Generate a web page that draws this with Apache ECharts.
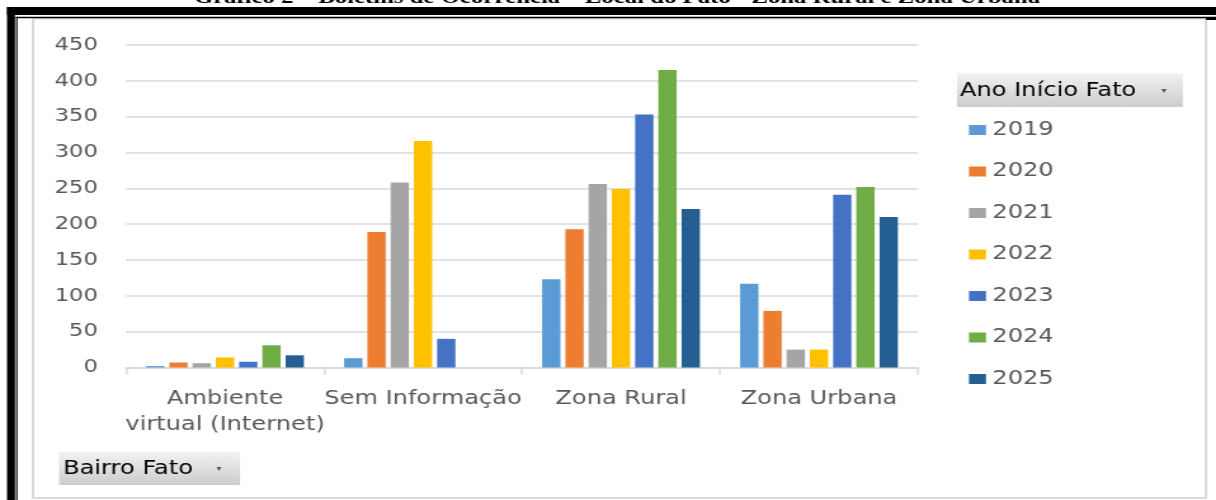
<!DOCTYPE html>
<html>
<head>
<meta charset="utf-8">
<script src="https://cdn.jsdelivr.net/npm/echarts@6/dist/echarts.min.js"></script>
<style>
html,body{margin:0;padding:0;background:#fff;overflow:hidden;width:1216px;height:500px;}
#c{width:958px;height:500px;transform:scaleX(1.26931);transform-origin:0 0;}
</style>
</head>
<body>
<div id="c"></div>
<script>
// ---- data ----
const categories = ['Ambiente\nvirtual (Internet)', 'Sem Informação', 'Zona Rural', 'Zona Urbana'];
const years = ['2019', '2020', '2021', '2022', '2023', '2024', '2025'];
const v2019 = [2, 13, 123, 117];
const v2020 = [7, 189, 193, 79];
const v2021 = [6, 258, 256, 25];
const v2022 = [14, 316, 249, 25];
const v2023 = [8, 40, 353, 241];
const v2024 = [31, 0, 415, 252];
const v2025 = [17, 0, 221, 210];
const yTicks = [0, 450, 50]; // min, max, interval
const titleText = 'Gráfico 2 – Boletins de Ocorrência – Local do Fato - Zona Rural e Zona Urbana';
const legendTitle = 'Ano Início Fato';
const filterTitle = 'Bairro Fato';

const seriesValues = [v2019, v2020, v2021, v2022, v2023, v2024, v2025];
const colors = ['#5B9BD5', '#ED7D31', '#A5A5A5', '#FFC000', '#4472C4', '#70AD47', '#255E91'];

const S = 1216 / 958;
const X = px => px / S;
const FONT = '"DejaVu Sans", sans-serif';

function btnGradient() {
  return new echarts.graphic.LinearGradient(0, 0, 0, 1, [
    {offset: 0, color: '#f3f3f3'},
    {offset: 1, color: '#cccccc'}
  ]);
}

const chart = echarts.init(document.getElementById('c'), null, {renderer: 'canvas'});
chart.setOption({
  animation: false,
  backgroundColor: '#ffffff',
  color: colors,
  grid: {left: X(126), width: X(792), top: 45, height: 322.5, containLabel: false},
  xAxis: {
    type: 'category',
    data: categories,
    axisLine: {lineStyle: {color: '#d9d9d9', width: 1.5}},
    axisTick: {show: true, length: 7, lineStyle: {color: '#d9d9d9', width: 1.5}},
    axisLabel: {color: '#595959', fontSize: 19, fontFamily: FONT, margin: 19, lineHeight: 26, interval: 0}
  },
  yAxis: {
    type: 'value',
    min: yTicks[0], max: yTicks[1], interval: yTicks[2],
    axisLine: {show: false},
    axisTick: {show: false},
    axisLabel: {color: '#595959', fontSize: 18, fontFamily: FONT, margin: 22},
    splitLine: {lineStyle: {color: '#d9d9d9', width: 1.5}}
  },
  legend: {
    orient: 'vertical',
    left: X(969),
    top: 120,
    padding: 0,
    icon: 'rect',
    itemWidth: X(17),
    itemHeight: 10,
    itemGap: 21.5,
    selectedMode: false,
    textStyle: {color: '#595959', fontSize: 19, fontFamily: FONT, lineHeight: 20},
    data: years
  },
  series: years.map((y, i) => ({
    name: y,
    type: 'bar',
    data: seriesValues[i],
    barWidth: X(18.3),
    barGap: '27%',
    itemStyle: {color: colors[i]}
  })),
  graphic: [
    {type: 'text', z: 1, style: {text: titleText, x: X(617), y: 8, textAlign: 'center', textVerticalAlign: 'bottom', font: 'bold 19.5px "Liberation Serif", serif', fill: '#000'}},
    {type: 'rect', z: 5, shape: {x: X(7), y: 7, width: X(1209), height: 8}, style: {fill: '#000'}},
    {type: 'rect', z: 5, shape: {x: X(7), y: 7, width: X(8), height: 493}, style: {fill: '#000'}},
    {type: 'rect', z: 5, shape: {x: X(16), y: 16.8, width: X(1200), height: 1.5}, style: {fill: '#000'}},
    {type: 'rect', z: 5, shape: {x: X(16), y: 16.8, width: X(1.5), height: 484}, style: {fill: '#000'}},
    {type: 'rect', z: 5, shape: {x: X(1206), y: 17, width: X(10), height: 3}, style: {fill: '#000'}},
    {type: 'rect', z: 4, shape: {x: X(33), y: 18.5, width: X(1173), height: 479.5}, style: {fill: 'none', stroke: '#d9d9d9', lineWidth: 2}},
    {type: 'rect', z: 4, shape: {x: X(957), y: 73, width: X(226), height: 34}, style: {fill: btnGradient()}},
    {type: 'text', z: 6, style: {text: legendTitle, x: X(960), y: 91, textVerticalAlign: 'middle', font: '19px "DejaVu Sans", sans-serif', fill: '#000'}},
    {type: 'text', z: 6, style: {text: '▾', x: X(1164), y: 91, textAlign: 'center', textVerticalAlign: 'middle', font: '8px "DejaVu Sans", sans-serif', fill: '#555'}},
    {type: 'rect', z: 4, shape: {x: X(59), y: 452, width: X(181), height: 33}, style: {fill: btnGradient()}},
    {type: 'text', z: 6, style: {text: filterTitle, x: X(63), y: 469, textVerticalAlign: 'middle', font: '19px "DejaVu Sans", sans-serif', fill: '#000'}},
    {type: 'text', z: 6, style: {text: '▾', x: X(219), y: 469, textAlign: 'center', textVerticalAlign: 'middle', font: '8px "DejaVu Sans", sans-serif', fill: '#555'}}
  ]
});
</script>
</body>
</html>
